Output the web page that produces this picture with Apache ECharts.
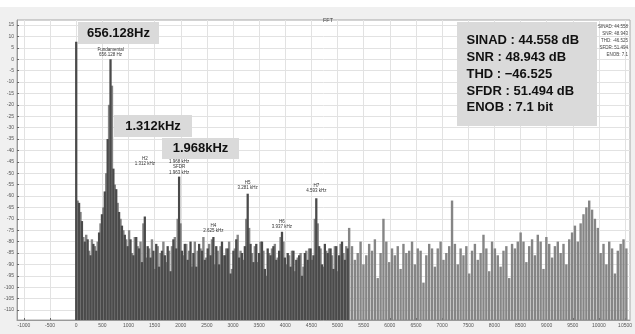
<!DOCTYPE html>
<html>
<head>
<meta charset="utf-8">
<script src="https://cdn.jsdelivr.net/npm/echarts@6/dist/echarts.min.js"></script>
<style>
  html, body { margin: 0; padding: 0; background: #ffffff; }
  #chart { width: 635px; height: 334px; background: linear-gradient(#ffffff 0 7px, #f0f0f0 7px 100%); }
</style>
</head>
<body>
<div id="chart"></div>
<script>
// FFT bin spacing: the fundamental sits on bin 12
const binHz = 656.128 / 12;

// Bin levels (dB), bins 0..95, on the exact bin frequencies
const darkLevels = [
  7.7, -63, -71, -80, -79, -86, -81, -84, -76, -68,
  -58, -35, 0, -48, -57, -67, -73, -77, -82, -79,
  -86, -78, -83, -89, -69, -82, -87, -84, -81, -91,
  -84, -86, -82, -93, -79, -83, -51.5, -84, -81, -88,
  -80, -85, -91, -81, -84, -88, -83, -86, -78, -82,
  -90, -80, -86, -83, -94, -84, -79, -87, -85, -82,
  -59, -81, -89, -81, -85, -80, -92, -83, -86, -82,
  -88, -84, -75.7, -87, -85, -91, -84, -88, -86, -95,
  -85, -88, -83, -86, -61, -82, -90, -81, -85, -83,
  -92, -82, -86, -80, -88, -83
];

// Levels (dB) on the half-bin frequencies, 0.5 .. 192.5 bins
const lightLevels = [
  -62, -67, -78, -77, -84, -79, -82, -80, -72, -65,
  -50, -20, -11.6, -55, -63, -70, -75, -79, -75, -85,
  -78, -82, -80, -72, -87, -83, -79, -92, -82, -85,
  -80, -89, -84, -82, -78, -70, -72, -86, -81, -84,
  -91, -80, -84, -83, -78, -87, -81, -79, -90, -84,
  -82, -86, -83, -80, -92, -83, -77, -84, -88, -70,
  -74, -85, -82, -89, -80, -84, -95, -85, -83, -81,
  -87, -78, -80, -90, -86, -84, -93, -87, -85, -91,
  -84, -83, -88, -70, -72, -83, -91, -84, -83, -86,
  -82, -93, -81, -85, -82, -74, -82, -88, -85, -80,
  -90, -86, -81, -84, -79, -96, -85, -70, -80, -89,
  -83, -86, -82, -92, -81, -85, -84, -80, -90, -83,
  -84, -98, -86, -81, -83, -91, -83, -80, -88, -85,
  -82, -62, -81, -90, -83, -86, -82, -94, -84, -81,
  -88, -85, -77, -83, -93, -80, -83, -86, -91, -84,
  -82, -96, -81, -83, -80, -76, -80, -89, -82, -79,
  -86, -77, -80, -92, -78, -81, -87, -82, -80, -85,
  -81, -90, -79, -76, -73, -80, -72, -68, -65, -62,
  -66, -70, -74, -85, -81, -90, -80, -83, -94, -84,
  -81, -79, -83
];

// Axis tick labels
const freqTicks = [-1000, -500, 0, 500, 1000, 1500, 2000, 2500, 3000, 3500, 4000, 4500,
  5000, 5500, 6000, 6500, 7000, 7500, 8000, 8500, 9000, 9500, 10000, 10500];
const dbTicks = [15, 10, 5, 0, -5, -10, -15, -20, -25, -30, -35, -40, -45, -50, -55,
  -60, -65, -70, -75, -80, -85, -90, -95, -100, -105, -110];

// Harmonic markers
const markerFreqs = [656.128, 1312.256, 1968.384, 2624.512, 3280.64, 3936.768, 4592.896];
const markerTexts = ['Fundamental\n656.128 Hz', 'H2\n1.312 kHz', 'H3\n1.968 kHz\nSFDR\n1.963 kHz',
  'H4\n2.625 kHz', 'H5\n3.281 kHz', 'H6\n3.937 kHz', 'H7\n4.593 kHz'];
const markerLevels = [0.3, -47.6, -51.4, -77, -58.1, -75.2, -59.5];

// Measurement summary
const statLines = ['SINAD : 44.558 dB', 'SNR : 48.943 dB', 'THD : \u221246.525', 'SFDR : 51.494 dB', 'ENOB : 7.1 bit'];
const statSmall = ['SINAD: 44.558', 'SNR: 48.943', 'THD: -46.525', 'SFDR: 51.494', 'ENOB: 7.1'];
const calloutTexts = ['656.128Hz', '1.312kHz', '1.968kHz'];

const X_MIN = -1133, X_MAX = 10595, Y_MIN = -114.4, Y_MAX = 17.2;

const darkData = darkLevels.map((v, k) => [k * binHz, v]);
const lightData = lightLevels.map((v, j) => [(j + 0.5) * binHz, v]);

function stemRenderer(color, widthRatio) {
  return function (params, api) {
    const f = api.value(0);
    const top = api.coord([f, api.value(1)]);
    const base = api.coord([f, Y_MIN]);
    const w = Math.max(1, api.size([binHz, 0])[0] * widthRatio);
    return {
      type: 'rect',
      shape: { x: top[0] - w / 2, y: top[1], width: w, height: base[1] - top[1] },
      style: { fill: color }
    };
  };
}

const chart = echarts.init(document.getElementById('chart'), null, { renderer: 'canvas' });

const font = 'Liberation Sans, Arial, sans-serif';
const axisLabelStyle = { fontSize: 5, color: '#555', fontFamily: font, formatter: (v) => String(v) };

chart.setOption({
  animation: false,
  backgroundColor: 'transparent',
  title: {
    text: 'FFT', left: 323, top: 12, textAlign: 'center',
    textStyle: { fontSize: 5.5, fontWeight: 'normal', color: '#444', fontFamily: font }
  },
  grid: {
    left: 17, right: 3, top: 20, bottom: 14,
    show: true, backgroundColor: '#ffffff', borderColor: '#a8a8a8', borderWidth: 1
  },
  xAxis: {
    type: 'value', min: X_MIN, max: X_MAX,
    axisLine: { show: true, onZero: false, lineStyle: { color: '#999' } },
    axisTick: { show: true, inside: true, length: 2, customValues: freqTicks, lineStyle: { color: '#666' } },
    axisLabel: Object.assign({ customValues: freqTicks, margin: 3 }, axisLabelStyle),
    splitLine: { show: true, lineStyle: { color: '#e2e2e2', width: 1 } }
  },
  yAxis: {
    type: 'value', min: Y_MIN, max: Y_MAX,
    axisLine: { show: true, onZero: false, lineStyle: { color: '#999' } },
    axisTick: { show: true, inside: true, length: 2, customValues: dbTicks, lineStyle: { color: '#666' } },
    axisLabel: Object.assign({ customValues: dbTicks, margin: 3 }, axisLabelStyle),
    splitLine: { show: true, lineStyle: { color: '#e2e2e2', width: 1 } }
  },
  series: [
    {
      type: 'custom', name: 'spectrum-half', clip: true,
      renderItem: stemRenderer('#858585', 0.84),
      encode: { x: 0, y: 1 },
      data: lightData, z: 2
    },
    {
      type: 'custom', name: 'spectrum', clip: true,
      renderItem: stemRenderer('#4a4a4a', 0.8),
      encode: { x: 0, y: 1 },
      data: darkData, z: 3
    }
  ]
});

// Annotations placed after the axes exist
const graphics = [];

markerFreqs.forEach((f, i) => {
  const p = chart.convertToPixel({ gridIndex: 0 }, [f, markerLevels[i]]);
  graphics.push({
    type: 'text', z: 20,
    style: {
      text: markerTexts[i], x: p[0], y: p[1] - 1, align: 'center', verticalAlign: 'bottom',
      fontSize: 4.5, lineHeight: 5.5, fill: '#333', fontFamily: font
    }
  });
});

const calloutBoxes = [
  { x: 78, y: 22, w: 81, h: 22 },
  { x: 114, y: 115, w: 78, h: 22 },
  { x: 162, y: 138, w: 77, h: 21 }
];
calloutTexts.forEach((t, i) => {
  const b = calloutBoxes[i];
  graphics.push({
    type: 'rect', z: 30, shape: { x: b.x, y: b.y, width: b.w, height: b.h },
    style: { fill: '#dadada' }
  });
  graphics.push({
    type: 'text', z: 31,
    style: {
      text: t, x: b.x + b.w / 2, y: b.y + b.h / 2, align: 'center', verticalAlign: 'middle',
      fontSize: 13, fontWeight: 'bold', fill: '#111', fontFamily: font
    }
  });
});

graphics.push({
  type: 'rect', z: 30, shape: { x: 457, y: 22, width: 140, height: 104 },
  style: { fill: '#dadada' }
});
statLines.forEach((t, i) => {
  graphics.push({
    type: 'text', z: 31,
    style: {
      text: t, x: 466.5, y: 40.7 + i * 16.75, align: 'left', verticalAlign: 'middle',
      fontSize: 13, fontWeight: 'bold', fill: '#111', fontFamily: font
    }
  });
});
statSmall.forEach((t, i) => {
  graphics.push({
    type: 'text', z: 31,
    style: {
      text: t, x: 628, y: 26.7 + i * 6.9, align: 'right', verticalAlign: 'middle',
      fontSize: 4.5, fill: '#444', fontFamily: font
    }
  });
});

chart.setOption({ graphic: graphics });
</script>
</body>
</html>
